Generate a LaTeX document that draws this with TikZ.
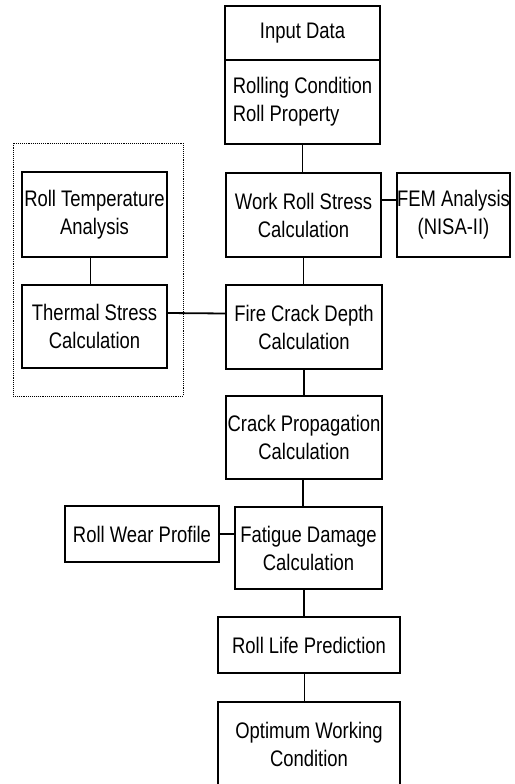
\documentclass[tikz,border=0pt]{standalone}
\usepackage{fontspec}
\setmainfont{Liberation Sans}[FakeStretch=0.82]
\begin{document}
\begin{tikzpicture}[x=1pt,y=-1pt,
  box/.style={draw,line width=1.8pt,rectangle,inner sep=0pt,align=center,
    font=\fontsize{22.5}{28}\selectfont},
  conn/.style={line width=1.8pt}]
\useasboundingbox (0,0) rectangle (514,784);
\clip (0,0) rectangle (514,784);
\node[box,minimum width=155,minimum height=54] (inp) at (302.5,33) {Input Data};
\node[box,minimum width=155,minimum height=84,align=left] (roll) at (302.5,102) {Rolling Condition\\Roll Property};
\node[box,minimum width=155,minimum height=84] (work) at (303.5,215) {Work Roll Stress\\Calculation};
\node[box,minimum width=111,minimum height=84] (fem) at (453.5,215) {FEM Analysis\\(NISA-II)};
\node[box,minimum width=156,minimum height=84] (fire) at (304,327) {Fire Crack Depth\\Calculation};
\node[box,minimum width=145,minimum height=85] (temp) at (94.5,214.5) {Roll Temperature\\Analysis};
\node[box,minimum width=145,minimum height=83] (therm) at (94.5,326.5) {Thermal Stress\\Calculation};
\node[draw,densely dotted,line width=0.9pt,minimum width=170,minimum height=253,inner sep=0pt] (grp) at (98,269.5) {};
\node[box,minimum width=156,minimum height=83] (crack) at (304,437.5) {Crack Propagation\\Calculation};
\node[box,minimum width=154,minimum height=56] (wear) at (142,534) {Roll Wear Profile};
\node[box,minimum width=147,minimum height=82] (fat) at (308.5,548) {Fatigue Damage\\Calculation};
\node[box,minimum width=182,minimum height=56] (life) at (309,645) {Roll Life Prediction};
\node[box,minimum width=182,minimum height=84] (opt) at (309,744) {Optimum Working\\Condition};
\draw[conn] (roll.south) -- (roll.south |- work.north);
\draw[conn] ([yshift=15pt]work.east) -- ([yshift=15pt]fem.west);
\draw[conn] (work.south) -- (work.south |- fire.north);
\draw[conn] ([xshift=-4pt]temp.south) -- ([xshift=-4pt]therm.north);
\draw[conn] ([yshift=13.5pt]therm.east) -- ([yshift=13.5pt]fire.west);
\draw[conn] (fire.south) -- (crack.north);
\draw[conn] ([xshift=-1pt]crack.south) -- ([xshift=-1pt]crack.south |- fat.north);
\draw[conn] (wear.east) -- (wear.east -| fat.west);
\draw[conn] ([xshift=-4.5pt]fat.south) -- ([xshift=-4.5pt]fat.south |- life.north);
\draw[conn] ([xshift=-4.5pt]life.south) -- ([xshift=-4.5pt]opt.north);
\end{tikzpicture}
\end{document}
